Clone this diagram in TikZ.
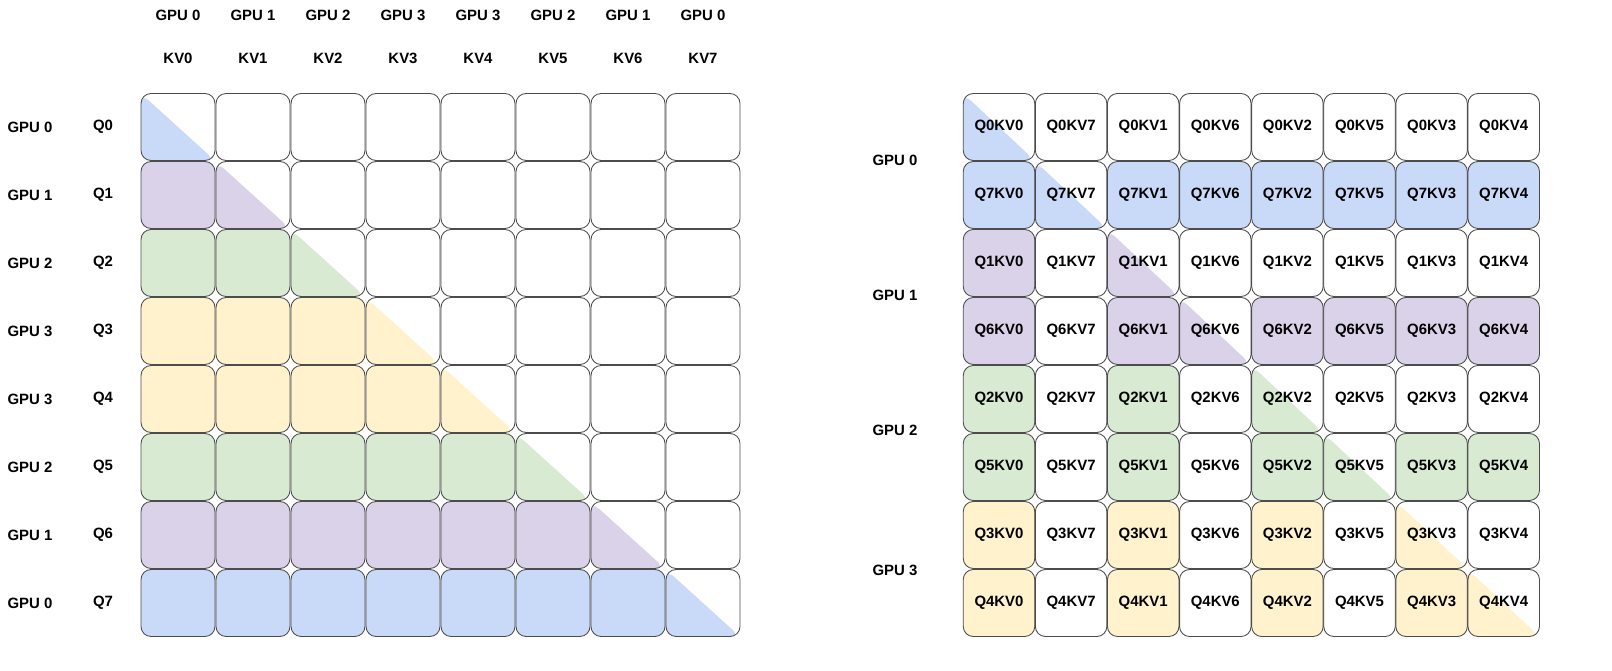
\documentclass[tikz,border=0pt]{standalone}
\usepackage{fontspec}
\setmainfont{Liberation Sans}
\tikzset{>=latex}
\definecolor{gzero}{HTML}{C9DAF8}
\definecolor{gone}{HTML}{D9D2E9}
\definecolor{gtwo}{HTML}{D9EAD3}
\definecolor{gthree}{HTML}{FFF2CC}
\tikzset{%
  cell/.style={draw=black!70, line width=0.5pt, rounded corners=0.2cm, minimum width=1.48cm, minimum height=1.34cm, inner sep=0pt, font=\bfseries\fontsize{8.5}{10}\selectfont},
  rcell/.style={cell, minimum width=1.43cm},
  full/.style={fill=#1},
  half/.style={path picture={\fill[#1] (path picture bounding box.north west) -- (path picture bounding box.south west) -- (path picture bounding box.south east) -- cycle;}},
  lbl/.style={font=\bfseries\fontsize{8.5}{10}\selectfont}
}
\begin{document}
\begin{tikzpicture}[x=0.02cm, y=-0.02cm]
  % left grid: colour of each query row
  \foreach \q/\col/\g in {0/gzero/0, 1/gone/1, 2/gtwo/2, 3/gthree/3, 4/gthree/3, 5/gtwo/2, 6/gone/1, 7/gzero/0} {%
    \node[lbl] (lg-\q) at (30,127+68*\q) {GPU \g};
    \node[lbl] (lq-\q) at (103,127+68*\q) {Q\q};
    \foreach \k in {0,...,7} {%
      \ifnum\k<\q
        \node[cell, full=\col] (L-\q-\k) at (178+75*\k,127+68*\q) {};%
      \else\ifnum\k=\q
        \node[cell, half=\col] (L-\q-\k) at (178+75*\k,127+68*\q) {};%
      \else
        \node[cell] (L-\q-\k) at (178+75*\k,127+68*\q) {};%
      \fi\fi
    }%
  }
  % column headers
  \foreach \k/\g in {0/0, 1/1, 2/2, 3/3, 4/3, 5/2, 6/1, 7/0} {%
    \node[lbl] (tg-\k) at (178+75*\k,15) {GPU \g};
    \node[lbl] (tk-\k) at (178+75*\k,58) {KV\k};
  }

  % right grid: zig-zag ordering of Q and KV
  \foreach \q [count=\r from 0] in {0,7,1,6,2,5,3,4} {%
    \pgfmathtruncatemacro{\gi}{min(\q,7-\q)}%
    \ifcase\gi \def\col{gzero}\or \def\col{gone}\or \def\col{gtwo}\or \def\col{gthree}\fi
    \foreach \k [count=\c from 0] in {0,7,1,6,2,5,3,4} {%
      \ifnum\k<\q
        \node[rcell, full=\col] (R-\q-\k) at (999+72.1*\c,127+68*\r) {Q\q KV\k};%
      \else\ifnum\k=\q
        \node[rcell, half=\col] (R-\q-\k) at (999+72.1*\c,127+68*\r) {Q\q KV\k};%
      \else
        \node[rcell] (R-\q-\k) at (999+72.1*\c,127+68*\r) {Q\q KV\k};%
      \fi\fi
    }%
  }
  % GPU labels of the row pairs
  \foreach \g/\y in {0/160, 1/295, 2/430, 3/570}
    \node[lbl] (rg-\g) at (895,\y) {GPU \g};

  \pgfresetboundingbox
  \useasboundingbox (0,0) rectangle (1612,671);
\end{tikzpicture}
\end{document}
